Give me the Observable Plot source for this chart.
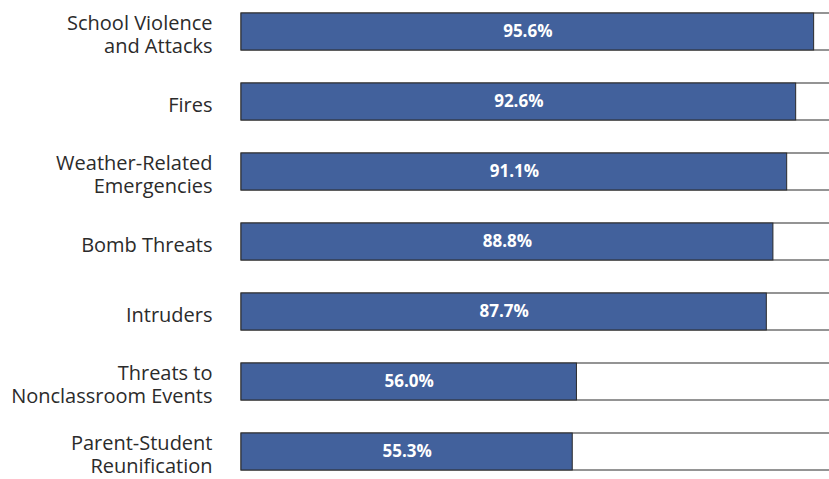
<!DOCTYPE html>
<html>
<head>
<meta charset="utf-8">
<script src="https://cdn.jsdelivr.net/npm/d3@7"></script>
<script src="https://cdn.jsdelivr.net/npm/@observablehq/plot@0.6"></script>
<style>
  html, body { margin: 0; padding: 0; background: white; overflow: hidden; }
  #chart svg { overflow: visible; }
</style>
</head>
<body>
<div id="chart"></div>
<script>
const categories = [
  "School Violence\nand Attacks",
  "Fires",
  "Weather-Related\nEmergencies",
  "Bomb Threats",
  "Intruders",
  "Threats to\nNonclassroom Events",
  "Parent-Student\nReunification"
];
const values = [95.6, 92.6, 91.1, 88.8, 87.7, 56.0, 55.3];
const valueLabels = ["95.6%", "92.6%", "91.1%", "88.8%", "87.7%", "56.0%", "55.3%"];

const data = categories.map((c, i) => ({category: c, value: values[i], label: valueLabels[i]}));

const chart = Plot.plot({
  width: 829,
  height: 479,
  marginLeft: 241,
  marginRight: 0,
  marginTop: 0,
  marginBottom: 0,
  style: {fontFamily: "'Open Sans', sans-serif", background: "white", overflow: "visible"},
  x: {domain: [0, 100], range: [241, 840], axis: null},
  y: {domain: categories, range: [12, 471], paddingInner: 0.474, paddingOuter: 0, axis: null},
  marks: [
    Plot.barX(data, {y: "category", x1: 0, x2: 100, fill: "white", stroke: "#2a2a2a", strokeWidth: 1}),
    Plot.barX(data, {y: "category", x1: 0, x2: "value", fill: "#42619c", stroke: "#2a2a2a", strokeWidth: 1}),
    Plot.text(data, {y: "category", x: d => d.value / 2, text: "label", fill: "white", fontWeight: "bold", fontSize: 17}),
    Plot.text(data, {y: "category", x: 0, text: "category", textAnchor: "end", dx: -29, dy: 2, fontSize: 20, lineHeight: 1.17, fill: "#2b2b2b"})
  ]
});
document.getElementById("chart").append(chart);
</script>
</body>
</html>
